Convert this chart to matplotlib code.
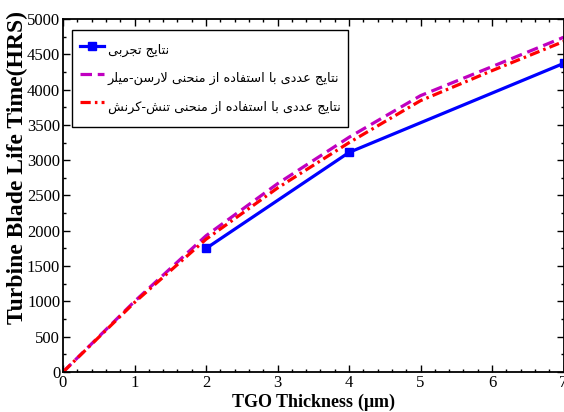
import numpy as np
import matplotlib
matplotlib.use("Agg")
import matplotlib.pyplot as plt
from matplotlib.ticker import MultipleLocator

# TGO thickness (um) and blade life (hours)
thk_exp = [2, 4, 7]
life_exp = [1750, 3110, 4370]

thk_num = [0, 1, 2, 3, 4, 5, 6, 7]
life_lm = [0, 1000, 1930, 2667, 3324, 3914, 4325, 4740]   # Larson-Miller
life_ss = [0, 985, 1880, 2606, 3248, 3843, 4268, 4680]    # stress-strain

labels = [
    "نتایج تجربی",
    "نتایج عددی با استفاده از منحنی لارسن-میلر",
    "نتایج عددی با استفاده از منحنی تنش-کرنش",
]

xlim = (0, 7)
ylim = (0, 5000)

# presentation forms: isolated, final, initial, medial
FORMS = {
    "ا": ("\uFE8D", "\uFE8E", None, None),
    "ب": ("\uFE8F", "\uFE90", "\uFE91", "\uFE92"),
    "ت": ("\uFE95", "\uFE96", "\uFE97", "\uFE98"),
    "ج": ("\uFE9D", "\uFE9E", "\uFE9F", "\uFEA0"),
    "ح": ("\uFEA1", "\uFEA2", "\uFEA3", "\uFEA4"),
    "د": ("\uFEA9", "\uFEAA", None, None),
    "ر": ("\uFEAD", "\uFEAE", None, None),
    "ز": ("\uFEAF", "\uFEB0", None, None),
    "س": ("\uFEB1", "\uFEB2", "\uFEB3", "\uFEB4"),
    "ش": ("\uFEB5", "\uFEB6", "\uFEB7", "\uFEB8"),
    "ع": ("\uFEC9", "\uFECA", "\uFECB", "\uFECC"),
    "ف": ("\uFED1", "\uFED2", "\uFED3", "\uFED4"),
    "ک": ("\uFB8E", "\uFB8F", "\uFB90", "\uFB91"),
    "ل": ("\uFEDD", "\uFEDE", "\uFEDF", "\uFEE0"),
    "م": ("\uFEE1", "\uFEE2", "\uFEE3", "\uFEE4"),
    "ن": ("\uFEE5", "\uFEE6", "\uFEE7", "\uFEE8"),
    "ه": ("\uFEE9", "\uFEEA", "\uFEEB", "\uFEEC"),
    "ی": ("\uFBFC", "\uFBFD", "\uFBFE", "\uFBFF"),
}


def joins_left(c):
    return c in FORMS and FORMS[c][2] is not None


def shape(text):
    # join letters and put them in visual (left-to-right) order
    out = []
    i = 0
    n = len(text)
    while i < n:
        c = text[i]
        prev = text[i - 1] if i > 0 else " "
        link_prev = joins_left(prev)
        if c == "ل" and i + 1 < n and text[i + 1] == "ا":
            out.append("\uFEFC" if link_prev else "\uFEFB")
            i += 2
            continue
        if c not in FORMS:
            out.append(c)
            i += 1
            continue
        nxt = text[i + 1] if i + 1 < n else " "
        link_next = joins_left(c) and nxt in FORMS
        iso, fin, ini, med = FORMS[c]
        if link_prev and link_next:
            out.append(med)
        elif link_prev:
            out.append(fin)
        elif link_next:
            out.append(ini)
        else:
            out.append(iso)
        i += 1
    return "".join(reversed(out))


plt.rcParams["font.family"] = ["Liberation Serif", "DejaVu Sans"]
plt.rcParams["mathtext.fontset"] = "custom"
plt.rcParams["mathtext.rm"] = "Liberation Serif"
plt.rcParams["mathtext.bf"] = "Liberation Serif:bold"

fig = plt.figure(figsize=(5.64, 4.12), dpi=100)
ax = fig.add_axes([0.1117, 0.097, 0.8875, 0.857])

ax.plot(thk_exp, life_exp, color="#0000ff", lw=2.3, marker="s", ms=6,
        label=shape(labels[0]))
ax.plot(thk_num, life_lm, color="#c000c0", lw=2.3, ls=(0, (3.6, 1.8)),
        label=shape(labels[1]))
ax.plot(thk_num, life_ss, color="#ff0000", lw=2.3, ls=(0, (3.2, 1.3, 0.8, 1.3)),
        label=shape(labels[2]))

ax.set_xlim(*xlim)
ax.set_ylim(*ylim)
ax.xaxis.set_major_locator(MultipleLocator(1))
ax.xaxis.set_minor_locator(MultipleLocator(0.2))
ax.yaxis.set_major_locator(MultipleLocator(500))
ax.yaxis.set_minor_locator(MultipleLocator(250))
ax.tick_params(which="both", direction="in", top=True, right=True,
               labelsize=12, width=1)
ax.tick_params(which="major", length=5, pad=2)
ax.tick_params(which="minor", length=2.5)
for sp in ax.spines.values():
    sp.set_linewidth(1.3)

ax.set_xlabel(r"TGO Thickness ($\mathbf{\mu}$m)", fontsize=13,
              fontweight="bold", labelpad=1)
ax.set_ylabel("Turbine Blade Life Time(HRS)", fontsize=17,
              fontweight="bold")
ax.yaxis.set_label_coords(-0.070, 0.579)

leg = ax.legend(loc="upper left", bbox_to_anchor=(0.018, 0.969),
                borderaxespad=0, fancybox=False, framealpha=1,
                edgecolor="black", handlelength=1.85, handleheight=2.6,
                handletextpad=0.3, labelspacing=0.25, borderpad=0.6,
                prop={"family": "DejaVu Sans", "size": 9.3})
leg.get_frame().set_linewidth(1.0)

fig.savefig("out.png", dpi=100)
